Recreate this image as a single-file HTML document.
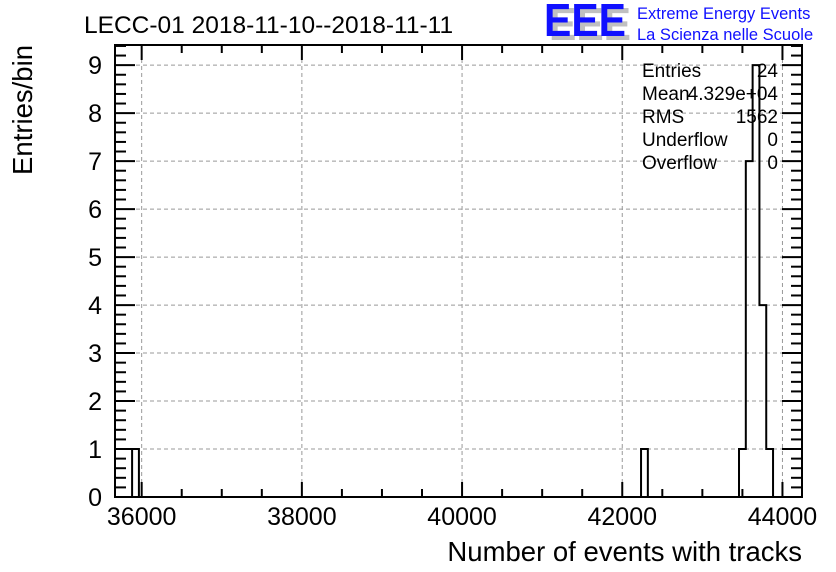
<!DOCTYPE html>
<html><head><meta charset="utf-8"><style>
body{margin:0;background:#fff}
svg{display:block;font-family:"Liberation Sans",sans-serif}
</style></head><body>
<svg id="chart" width="836" height="572" viewBox="0 0 836 572" xmlns="http://www.w3.org/2000/svg">
<rect width="836" height="572" fill="#fff"/>
<g id="grid"></g>
<g id="hist"></g>
<g id="axes"></g>
<text x="84" y="33" font-size="24.5">LECC-01 2018-11-10--2018-11-11</text>
<g>
<text x="549" y="40" font-size="46" font-weight="bold" fill="#c0c0c0" textLength="82" lengthAdjust="spacingAndGlyphs">EEE</text>
<text x="544" y="36" font-size="46" font-weight="bold" fill="#1010ff" textLength="82" lengthAdjust="spacingAndGlyphs">EEE</text>
<text x="637" y="19" font-size="16.5" fill="#1010ff">Extreme Energy Events</text>
<text x="637" y="40" font-size="16.5" fill="#1010ff">La Scienza nelle Scuole</text>
</g>
<g font-size="19">
<text x="642" y="77">Entries</text><text x="778" y="77" text-anchor="end">24</text>
<text x="642" y="100">Mean</text><text x="778" y="100" text-anchor="end">4.329e+04</text>
<text x="642" y="123">RMS</text><text x="778" y="123" text-anchor="end">1562</text>
<text x="642" y="146">Underflow</text><text x="778" y="146" text-anchor="end">0</text>
<text x="642" y="169">Overflow</text><text x="778" y="169" text-anchor="end">0</text>
</g>
<text x="802" y="561" font-size="27.5" text-anchor="end">Number of events with tracks</text>
<text transform="translate(32,45) rotate(-90)" font-size="27.5" text-anchor="end">Entries/bin</text>
</svg>
<script>
const binCenters=[35923,42277,43500,43585,43670,43755,43840];
const binCounts=[1,1,1,7,9,4,1];
const xTickValues=[36000,38000,40000,42000,44000];
const yTickValues=[0,1,2,3,4,5,6,7,8,9];
const binWidth=85;
const L=115,R=802,T=45,B=497,XMIN=35667,XMAX=44244,YMAX=9.42;
const NS="http://www.w3.org/2000/svg";
function X(v){return L+(v-XMIN)/(XMAX-XMIN)*(R-L);}
function Y(v){return B-v/YMAX*(B-T);}
function mk(tag,attrs,parent){const e=document.createElementNS(NS,tag);for(const k in attrs)e.setAttribute(k,attrs[k]);parent.appendChild(e);return e;}
const grid=document.getElementById('grid'),hist=document.getElementById('hist'),axes=document.getElementById('axes');
xTickValues.forEach(v=>{const g=mk('line',{x1:X(v),x2:X(v),y1:T,y2:B,stroke:'#999','stroke-dasharray':'4,3'},grid);

});
yTickValues.slice(1).forEach(v=>{const g=mk('line',{x1:L,x2:R,y1:Y(v),y2:Y(v),stroke:'#999','stroke-dasharray':'4,3'},grid);

});
// step outline: group adjacent bins
let d='';let prevRight=null;
binCenters.forEach((c,i)=>{const l=c-binWidth/2,r=c+binWidth/2;const y=Y(binCounts[i]);
if(prevRight===null||Math.abs(l-prevRight)>binWidth*0.3){
 if(prevRight!==null)d+='L'+X(prevRight)+','+B+' ';
 d+='M'+X(l)+','+B+' L'+X(l)+','+y+' ';
}else{d+='L'+X(l)+','+y+' ';}
d+='L'+X(r)+','+y+' ';prevRight=r;});
d+='L'+X(prevRight)+','+B;
const p=mk('path',{d:d,fill:'none',stroke:'#000','stroke-width':2},hist);


mk('rect',{x:L,y:T,width:R-L,height:B-T,fill:'none',stroke:'#000','stroke-width':2},axes);
for(let v=35500;v<=44250;v+=500){if(v<XMIN)continue;const maj=v%2000===0;const len=maj?15:8;const x=X(v);
mk('line',{x1:x,x2:x,y1:B,y2:B-len,stroke:'#000','stroke-width':2},axes);
mk('line',{x1:x,x2:x,y1:T,y2:T+len,stroke:'#000','stroke-width':2},axes);}
for(let v=0;v<=9.4;v+=0.2){v=Math.round(v*10)/10;const maj=Math.abs(v-Math.round(v))<1e-6;const len=maj?20:11;const y=Y(v);
mk('line',{x1:L,x2:L+len,y1:y,y2:y,stroke:'#000','stroke-width':2},axes);
mk('line',{x1:R,x2:R-len,y1:y,y2:y,stroke:'#000','stroke-width':2},axes);}
xTickValues.forEach(v=>{const t=mk('text',{x:X(v),y:B+28,'font-size':25,'text-anchor':'middle'},axes);t.textContent=v;

});
yTickValues.forEach(v=>{const t=mk('text',{x:L-13,y:Y(v)+9,'font-size':25,'text-anchor':'end'},axes);t.textContent=v;

});
</script>
</body></html>
